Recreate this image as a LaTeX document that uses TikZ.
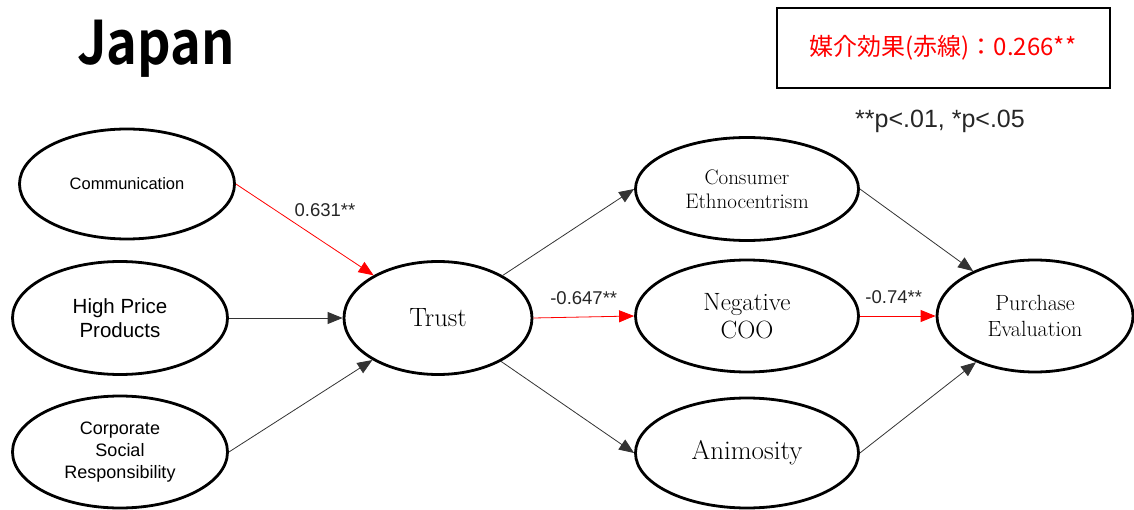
\documentclass[tikz,border=0pt]{standalone}
\usepackage{fontspec}
\setsansfont{Liberation Sans}
\newfontfamily\cjk{Noto Sans CJK JP}[BoldFont={Noto Sans CJK JP Bold}]
\usetikzlibrary{arrows.meta, shapes.geometric, positioning}

\begin{document}
\begin{tikzpicture}[
  x=1pt, y=-1pt,
  latent/.style={ellipse, draw=black, line width=2.8pt, inner sep=0pt,
    align=center, minimum width=215pt, minimum height=110pt},
  srclat/.style={latent, font=\sffamily},
  outlat/.style={latent, minimum width=223pt},
  arr/.style={-{Triangle[length=15pt, width=12pt]}, line width=0.8pt, black!80},
  redarr/.style={arr, red},
  coef/.style={font=\sffamily\fontsize{18.5}{20}\selectfont, text=black!85}
]
\useasboundingbox (0,0) rectangle (1134,510);

% title and note
\node[font=\cjk\bfseries\fontsize{60}{62}\selectfont] (title) at (156,49) {\scalebox{0.87}[1]{Japan}};
\node[draw=black, line width=2pt, minimum width=333pt, minimum height=80pt,
  font=\cjk\fontsize{24}{26}\selectfont, text=red] (effect) at (943,48)
  {媒介効果(赤線)：0.266**};
\node[font=\sffamily\fontsize{25}{27}\selectfont, text=black!85] (note) at (940,121) {**p<.01, *p<.05};

% antecedents
\node[srclat, font=\sffamily\fontsize{16.5}{18}\selectfont] (comm) at (127,184) {Communication};
\node[srclat, font=\sffamily\fontsize{20.5}{24.5}\selectfont, minimum height=113pt] (hpp) at (120,318) {High Price\\Products};
\node[srclat, font=\sffamily\fontsize{18}{22}\selectfont, minimum height=112pt] (csr) at (120,452) {Corporate\\Social\\Responsibility};

% mediator
\node[latent, minimum width=188pt, minimum height=113pt, font=\fontsize{26.5}{28}\selectfont] (trust) at (438,318) {Trust};

% second layer
\node[outlat, minimum height=103pt, font=\fontsize{21}{24}\selectfont] (ce) at (747,189) {Consumer\\Ethnocentrism};
\node[outlat, minimum height=112pt, font=\fontsize{25}{28}\selectfont] (ncoo) at (747,316) {Negative\\COO};
\node[outlat, minimum height=110pt, font=\fontsize{27}{29}\selectfont] (anim) at (747,453) {Animosity};

% outcome
\node[latent, minimum width=196pt, minimum height=112pt, font=\fontsize{22}{26}\selectfont] (pe) at (1035,316) {Purchase\\Evaluation};

% paths
\draw[redarr] (comm.east) -- node[coef, pos=0.4, anchor=south west]{0.631**} (trust);
\draw[arr] (hpp.east) -- (trust.west);
\draw[arr] (csr.east) -- (trust);
\draw[arr] (trust) -- (ce.west);
\draw[redarr] (trust.east) -- node[coef, above=9pt]{-0.647**} (ncoo.west);
\draw[arr] (trust) -- (anim.west);
\draw[arr] (ce.east) -- (pe);
\draw[redarr] (ncoo.east) -- node[coef, above=9pt, xshift=-4pt]{-0.74**} (pe.west);
\draw[arr] (anim.east) -- (pe);
\end{tikzpicture}
\end{document}
